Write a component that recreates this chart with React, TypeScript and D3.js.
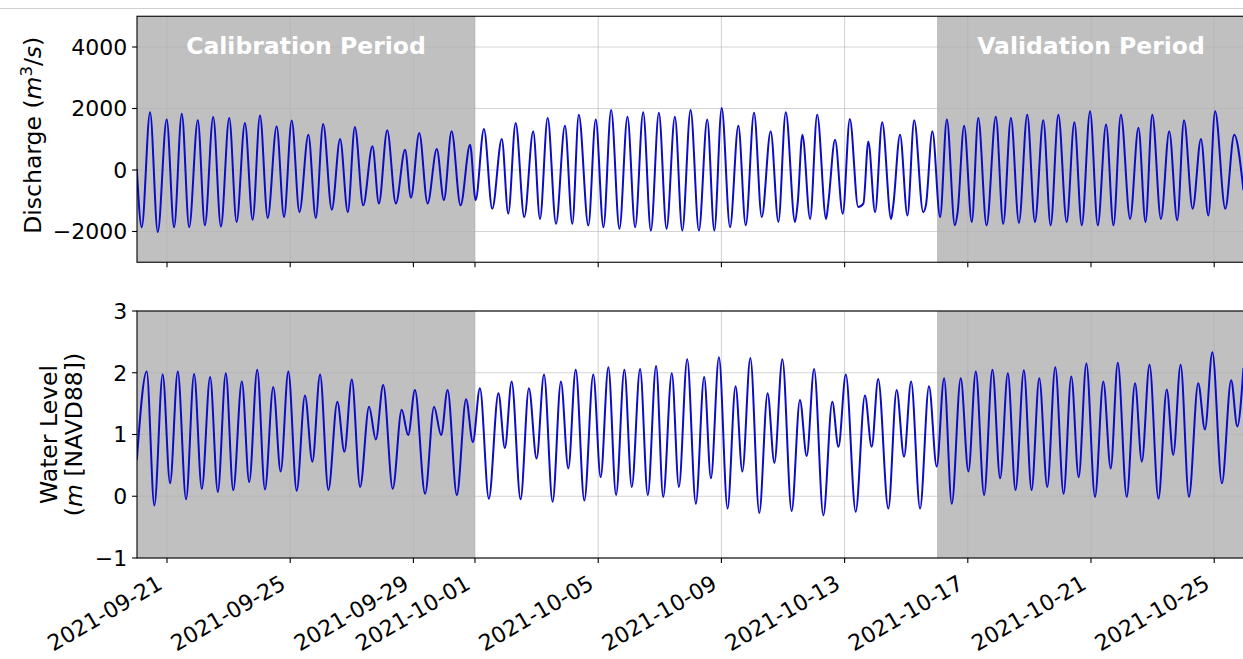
import React from 'react';
import * as d3 from 'd3';

// ---------- data ----------
// time is given in days after 2021-09-20 00:00 (UTC)
const START_DATE = '2021-09-20';

const dischargeDays = [
  0.02, 0.18, 0.45, 0.70, 0.99, 1.23, 1.48, 1.72, 2.00, 2.23, 2.50, 2.75, 3.02, 3.26, 3.53, 3.78,
  4.02, 4.27, 4.56, 4.80, 5.05, 5.30, 5.59, 5.83, 6.07, 6.35, 6.62, 6.87, 7.10, 7.37, 7.67, 7.88,
  8.15, 8.43, 8.73, 8.92, 9.19, 9.46, 9.76, 9.99, 10.24, 10.53, 10.84, 11.02, 11.29, 11.56, 11.87, 12.08,
  12.32, 12.60, 12.89, 13.11, 13.36, 13.63, 13.92, 14.16, 14.37, 14.68, 14.92, 15.17, 15.42, 15.69, 15.95, 16.20,
  16.46, 16.71, 16.97, 17.22, 17.49, 17.73, 18.00, 18.27, 18.54, 18.77, 19.01, 19.28, 19.55, 19.79, 20.06, 20.31,
  20.60, 20.85, 21.09, 21.39, 21.48, 21.63, 21.88, 22.11, 22.40, 22.47, 22.69, 22.94, 23.17, 23.44, 23.61, 23.77,
  23.99, 24.22, 24.51, 24.58, 24.80, 25.04, 25.26, 25.55, 25.64, 25.85, 26.10, 26.32, 26.58, 26.67, 26.88, 27.13,
  27.34, 27.61, 27.91, 28.15, 28.40, 28.66, 28.93, 29.18, 29.45, 29.69, 29.94, 30.21, 30.46, 30.70, 30.97, 31.22,
  31.49, 31.73, 31.97, 32.27, 32.54, 32.77, 32.99, 33.27, 33.54, 33.80, 34.02, 34.30, 34.57, 34.81, 35.03, 35.36,
  35.65, 35.95,
];
const dischargeValues = [
  30, -1860, 1880, -2020, 1640, -1860, 1830, -1860, 1620, -1800, 1720, -1840, 1690, -1690, 1530, -1620,
  1770, -1560, 1420, -1530, 1610, -1370, 1150, -1560, 1500, -1290, 1010, -1370, 1400, -1150, 770, -1090,
  1290, -1090, 660, -900, 1200, -1090, 680, -980, 1260, -1150, 820, -980, 1330, -1260, 1010, -1420,
  1530, -1530, 1260, -1590, 1690, -1750, 1440, -1750, 1800, -1800, 1640, -1860, 1950, -1910, 1730, -1860,
  1880, -1970, 1860, -1910, 1730, -1970, 1950, -1970, 1640, -1970, 2020, -1860, 1440, -1800, 1860, -1530,
  1260, -1690, 1880, -1690, -1040, 1150, -1590, 1800, -1590, -1090, 980, -1420, 1660, -1200, -1090, 930,
  -1370, 1550, -1590, -1150, 1150, -1480, 1620, -1370, -1150, 1260, -1530, 1640, -1800, -1370, 1440, -1690,
  1690, -1800, 1730, -1750, 1690, -1720, 1800, -1690, 1620, -1800, 1800, -1690, 1550, -1800, 1910, -1800,
  1480, -1800, 1800, -1590, 1370, -1690, 1800, -1590, 1260, -1640, 1620, -1260, 1010, -1480, 1910, -1260,
  1150, -660,
];

const levelDays = [
  0.02, 0.34, 0.59, 0.86, 1.10, 1.35, 1.62, 1.88, 2.13, 2.40, 2.65, 2.91, 3.15, 3.43, 3.67, 3.93,
  4.18, 4.45, 4.69, 4.94, 5.21, 5.48, 5.72, 5.97, 6.24, 6.53, 6.76, 7.00, 7.27, 7.56, 7.78, 8.02,
  8.33, 8.62, 8.83, 9.05, 9.38, 9.67, 9.90, 10.11, 10.41, 10.71, 10.93, 11.16, 11.45, 11.76, 11.97, 12.19,
  12.48, 12.75, 13.00, 13.24, 13.52, 13.79, 14.03, 14.27, 14.55, 14.84, 15.08, 15.33, 15.58, 15.85, 16.09, 16.36,
  16.61, 16.88, 17.11, 17.39, 17.62, 17.89, 18.17, 18.44, 18.66, 18.92, 19.20, 19.46, 19.68, 19.94, 20.23, 20.50,
  20.72, 20.98, 21.28, 21.55, 21.77, 22.01, 22.31, 22.60, 22.80, 23.04, 23.36, 23.66, 23.88, 24.09, 24.42, 24.69,
  24.93, 25.16, 25.45, 25.74, 25.99, 26.23, 26.48, 26.77, 27.02, 27.26, 27.53, 27.80, 28.05, 28.30, 28.55, 28.82,
  29.07, 29.32, 29.58, 29.84, 30.11, 30.36, 30.60, 30.85, 31.13, 31.40, 31.64, 31.87, 32.16, 32.43, 32.65, 32.90,
  33.19, 33.46, 33.67, 33.91, 34.18, 34.48, 34.70, 34.94, 35.25, 35.55, 35.75, 35.95,
];
const levelValues = [
  0.59, 2.02, -0.15, 1.97, 0.21, 2.02, -0.05, 1.98, 0.12, 1.93, 0.07, 1.99, 0.10, 1.86, 0.23, 2.05,
  0.11, 1.77, 0.40, 2.02, 0.09, 1.63, 0.56, 1.97, 0.10, 1.53, 0.72, 1.89, 0.15, 1.45, 0.92, 1.80,
  0.12, 1.40, 0.99, 1.72, 0.04, 1.45, 0.99, 1.72, 0.02, 1.57, 0.88, 1.75, -0.04, 1.67, 0.78, 1.86,
  -0.05, 1.75, 0.61, 1.97, -0.09, 1.86, 0.45, 2.05, -0.07, 1.97, 0.31, 2.09, 0.02, 2.05, 0.15, 2.06,
  0.02, 2.11, -0.01, 1.99, 0.15, 2.22, -0.12, 1.93, 0.29, 2.25, -0.20, 1.78, 0.40, 2.24, -0.27, 1.67,
  0.54, 2.22, -0.24, 1.56, 0.65, 2.06, -0.31, 1.53, 0.80, 1.97, -0.25, 1.63, 0.80, 1.90, -0.20, 1.72,
  0.64, 1.86, -0.20, 1.78, 0.48, 1.91, -0.12, 1.91, 0.40, 2.02, 0.02, 2.05, 0.29, 1.99, 0.10, 2.04,
  0.10, 1.91, 0.15, 2.09, 0.04, 1.94, 0.31, 2.15, -0.01, 1.86, 0.45, 2.16, -0.01, 1.83, 0.56, 2.13,
  -0.04, 1.73, 0.67, 2.13, -0.01, 1.83, 1.08, 2.33, 0.21, 1.88, 1.13, 2.08,
];

const xTickLabels = [
  '2021-09-21', '2021-09-25', '2021-09-29', '2021-10-01', '2021-10-05',
  '2021-10-09', '2021-10-13', '2021-10-17', '2021-10-21', '2021-10-25',
];
const dischargeTicks = [-2000, 0, 2000, 4000];
const dischargeDomain = [-3000, 5000];
const levelTicks = [-1, 0, 1, 2, 3];
const levelDomain = [-1, 3];
const calibrationPeriod = ['2021-09-20', '2021-10-01'];
const validationPeriod = ['2021-10-16', '2021-10-27'];
const periodLabels = ['Calibration Period', 'Validation Period'];

// ---------- layout ----------
const W = 1243;
const H = 659;
const L = 137;
const R = 1245; // axes run just past the cropped right edge of the picture
const FONT = '"DejaVu Sans", Verdana, sans-serif';
const FS = 22;
const LABEL_FS = 23.5;
const TICK = 4.9;
const LINE_COLOR = '#0c0cc8';
const SHADE = '#c0c0c0';

const parse = (s: string) => new Date(s + 'T00:00:00Z');
const startMs = parse(START_DATE).getTime();
const DAY = 86400000;
const toDate = (d: number) => new Date(startMs + d * DAY);

const x = d3
  .scaleUtc()
  .domain([toDate(0), toDate(36)])
  .range([136.2, 136.2 + 36 * 30.8]);

type Pt = [Date, number];

function Panel({
  top, bottom, domain, ticks, days, values, id, showXLabels, tickFmt,
}: {
  top: number; bottom: number; domain: number[]; ticks: number[]; days: number[]; values: number[];
  id: string; showXLabels: boolean; tickFmt: (v: number) => string;
}) {
  const y = d3.scaleLinear().domain(domain).range([bottom, top]);
  const pts: Pt[] = days.map((d, i) => [toDate(d), values[i]]);
  const line = d3
    .line<Pt>()
    .x((d) => x(d[0]))
    .y((d) => y(d[1]))
    .curve(d3.curveMonotoneX);
  const shades = [calibrationPeriod, validationPeriod].map((p) => [
    Math.max(L, x(parse(p[0]))),
    Math.min(R, x(parse(p[1]))),
  ]);
  const xt = xTickLabels.map((s) => x(parse(s)));
  return (
    <g>
      <defs>
        <clipPath id={id}>
          <rect x={L} y={top} width={R - L} height={bottom - top} />
        </clipPath>
      </defs>
      <rect x={L} y={top} width={R - L} height={bottom - top} fill="#ffffff" />
      {shades.map((s, i) => (
        <rect key={i} x={s[0]} y={top} width={s[1] - s[0]} height={bottom - top} fill={SHADE} />
      ))}
      {/* grid */}
      <g stroke="#b0b0b0" strokeOpacity={0.55} strokeWidth={1.1}>
        {xt.map((tx, i) => (
          <line key={'gx' + i} x1={tx} x2={tx} y1={top} y2={bottom} />
        ))}
        {ticks.map((t, i) => (
          <line key={'gy' + i} x1={L} x2={R} y1={y(t)} y2={y(t)} />
        ))}
      </g>
      <path
        d={line(pts) || ''}
        fill="none"
        stroke={LINE_COLOR}
        strokeWidth={2}
        strokeLinejoin="round"
        clipPath={`url(#${id})`}
      />
      {/* spines */}
      <rect x={L} y={top} width={R - L} height={bottom - top} fill="none" stroke="#000" strokeWidth={1.1} />
      {/* y ticks */}
      {ticks.map((t, i) => (
        <g key={'yt' + i}>
          <line x1={L - TICK} x2={L} y1={y(t)} y2={y(t)} stroke="#000" strokeWidth={1.1} />
          <text
            x={L - TICK - 4.9}
            y={y(t)}
            dy="0.36em"
            textAnchor="end"
            fontFamily={FONT}
            fontSize={FS}
            fill="#000"
          >
            {tickFmt(t)}
          </text>
        </g>
      ))}
      {/* x ticks */}
      {xt.map((tx, i) => (
        <line key={'xt' + i} x1={tx} x2={tx} y1={bottom} y2={bottom + TICK} stroke="#000" strokeWidth={1.1} />
      ))}
      {showXLabels &&
        xt.map((tx, i) => (
          <text
            key={'xl' + i}
            transform={`translate(${tx - 3},${bottom + TICK + 4.9 + 20}) rotate(-30)`}
            textAnchor="end"
            fontFamily={FONT}
            fontSize={FS}
            fill="#000"
          >
            {xTickLabels[i]}
          </text>
        ))}
    </g>
  );
}

const minus = (s: string) => s.replace('-', '\u2212');

export default function App() {
  const topP = { top: 16.25, bottom: 262.25 };
  const botP = { top: 311, bottom: 558 };
  const calC = (L + x(parse(calibrationPeriod[1]))) / 2;
  const valC = (x(parse(validationPeriod[0])) + R) / 2;
  const botMid = (botP.top + botP.bottom) / 2;
  return (
    <svg
      width={W}
      height={H}
      viewBox={`0 0 ${W} ${H}`}
      style={{ position: 'absolute', left: 0, top: 0, display: 'block', background: '#fff' }}
    >
      <rect x={0} y={0} width={W} height={H} fill="#fff" />
      <line x1={0} x2={W} y1={8.5} y2={8.5} stroke="#d0d0d0" strokeWidth={1} />
      <Panel
        id="clipTop"
        top={topP.top}
        bottom={topP.bottom}
        domain={dischargeDomain}
        ticks={dischargeTicks}
        days={dischargeDays}
        values={dischargeValues}
        showXLabels={false}
        tickFmt={(v) => minus(String(v))}
      />
      <Panel
        id="clipBot"
        top={botP.top}
        bottom={botP.bottom}
        domain={levelDomain}
        ticks={levelTicks}
        days={levelDays}
        values={levelValues}
        showXLabels={true}
        tickFmt={(v) => minus(String(v))}
      />
      {/* period labels */}
      <text x={calC} y={54} textAnchor="middle" fontFamily={FONT} fontSize={23.5} fontWeight="bold" fill="#fff">
        {periodLabels[0]}
      </text>
      <text x={valC} y={54} textAnchor="middle" fontFamily={FONT} fontSize={23.5} fontWeight="bold" fill="#fff">
        {periodLabels[1]}
      </text>
      {/* y labels */}
      <text
        transform={`translate(41,${(topP.top + topP.bottom) / 2 - 4}) rotate(-90)`}
        textAnchor="middle"
        fontFamily={FONT}
        fontSize={LABEL_FS}
        fill="#000"
      >
        Discharge (<tspan fontStyle="italic">m</tspan>
        <tspan dy={-9} fontSize={16.5}>3</tspan>
        <tspan dy={9}>/</tspan>
        <tspan fontStyle="italic">s</tspan>)
      </text>
      <text
        transform={`translate(57,${botMid}) rotate(-90)`}
        textAnchor="middle"
        fontFamily={FONT}
        fontSize={LABEL_FS}
        fill="#000"
      >
        Water Level
      </text>
      <text
        transform={`translate(82,${botMid}) rotate(-90)`}
        textAnchor="middle"
        fontFamily={FONT}
        fontSize={LABEL_FS}
        fill="#000"
      >
        (<tspan fontStyle="italic">m</tspan> [NAVD88])
      </text>
    </svg>
  );
}
